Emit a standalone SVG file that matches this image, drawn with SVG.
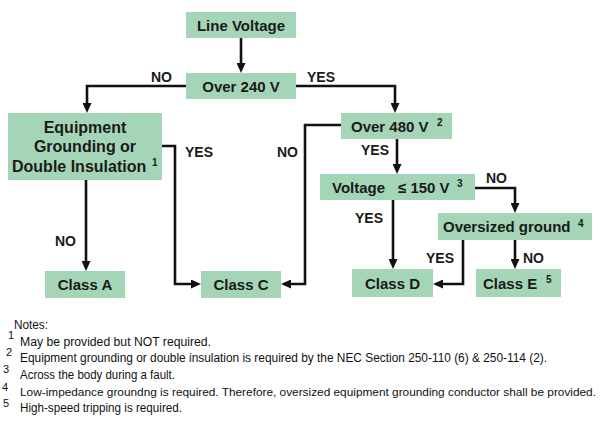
<svg xmlns="http://www.w3.org/2000/svg" width="600" height="431" viewBox="0 0 600 431">
<style>
.box{fill:#a5d5b7;}
.bt{font-family:"Liberation Sans",Arial,sans-serif;font-weight:bold;font-size:15px;fill:#1a1a1a;}
.eq{font-size:16px;}
.sup{font-size:10px;}
.lbl{font-family:"Liberation Sans",Arial,sans-serif;font-weight:bold;font-size:14px;fill:#1a1a1a;}
.conn path{fill:none;stroke:#111;stroke-width:2.6;stroke-linejoin:miter;marker-end:url(#ah);}
.note{font-family:"Liberation Sans Narrow","Liberation Sans",Arial,sans-serif;font-size:12.5px;fill:#111;}
.long{font-size:11.7px;}
.nsup{font-family:"Liberation Sans Narrow","Liberation Sans",Arial,sans-serif;font-size:11px;fill:#111;}
</style>
<defs>
<marker id="ah" viewBox="0 0 10 9" refX="4" refY="4.5" markerWidth="10" markerHeight="9" markerUnits="userSpaceOnUse" orient="auto">
<path d="M0,0 L10,4.5 L0,9 z" fill="#111"/>
</marker>
</defs>
<rect width="600" height="431" fill="#fff"/>

<g id="connectors" class="conn">
<path d="M241,38 V67"/>
<path d="M186,86 H87 V107"/>
<path d="M296,86 H395 V107"/>
<path d="M162,146 H175 V284 H195"/>
<path d="M86,180 V265"/>
<path d="M341,125 H305 V284 H287"/>
<path d="M397,139 V168"/>
<path d="M475,188 H515 V207"/>
<path d="M393,200 V263"/>
<path d="M463,240 V284 H439"/>
<path d="M515,240 V263"/>
</g>

<g id="labels">
<text class="lbl" x="151" y="82">NO</text>
<text class="lbl" x="307" y="82">YES</text>
<text class="lbl" x="185" y="157">YES</text>
<text class="lbl" x="277" y="157">NO</text>
<text class="lbl" x="361" y="155">YES</text>
<text class="lbl" x="486" y="183">NO</text>
<text class="lbl" x="355" y="223">YES</text>
<text class="lbl" x="426" y="263">YES</text>
<text class="lbl" x="523" y="263">NO</text>
<text class="lbl" x="55" y="246">NO</text>
</g>

<g id="line-voltage">
<rect class="box" x="186" y="12" width="110" height="26"/>
<text class="bt" x="241" y="31" text-anchor="middle">Line Voltage</text>
</g>
<g id="over-240">
<rect class="box" x="186" y="73" width="110" height="26"/>
<text class="bt" x="241" y="91.5" text-anchor="middle">Over 240 V</text>
</g>
<g id="equipment">
<rect class="box" x="8" y="113" width="154" height="67"/>
<text class="bt eq" x="85" y="133" text-anchor="middle">Equipment</text>
<text class="bt eq" x="85" y="152" text-anchor="middle">Grounding or</text>
<text class="bt eq" x="12" y="171.5">Double Insulation<tspan class="sup" x="152" y="166">1</tspan></text>
</g>
<g id="over-480">
<rect class="box" x="341" y="113" width="111" height="26"/>
<text class="bt" x="351" y="131.5">Over 480 V<tspan class="sup" x="437" y="126">2</tspan></text>
</g>
<g id="voltage-150">
<rect class="box" x="320" y="174" width="155" height="26"/>
<text class="bt" x="332" y="192.5">Voltage<tspan x="398">≤ 150 V</tspan><tspan class="sup" x="457" y="187">3</tspan></text>
</g>
<g id="oversized-ground">
<rect class="box" x="438" y="213" width="154" height="27"/>
<text class="bt" x="443" y="232">Oversized ground<tspan class="sup" x="578" y="226.5">4</tspan></text>
</g>
<g id="class-a">
<rect class="box" x="45" y="271" width="80" height="27"/>
<text class="bt" x="85" y="290" text-anchor="middle">Class A</text>
</g>
<g id="class-c">
<rect class="box" x="201" y="271" width="80" height="27"/>
<text class="bt" x="241" y="290" text-anchor="middle">Class C</text>
</g>
<g id="class-d">
<rect class="box" x="352" y="269" width="81" height="28"/>
<text class="bt" x="392.5" y="288.5" text-anchor="middle">Class D</text>
</g>
<g id="class-e">
<rect class="box" x="476" y="269" width="85" height="28"/>
<text class="bt" x="483" y="288.5">Class E<tspan class="sup" x="546" y="283">5</tspan></text>
</g>

<g id="notes">
<text class="note" x="14" y="329" textLength="34" lengthAdjust="spacingAndGlyphs">Notes:</text>
<text class="nsup" x="8" y="339">1</text>
<text class="note" x="20" y="346" textLength="191" lengthAdjust="spacingAndGlyphs">May be provided but NOT required.</text>
<text class="nsup" x="6" y="356">2</text>
<text class="note" x="20" y="362" textLength="527" lengthAdjust="spacingAndGlyphs">Equipment grounding or double insulation is required by the NEC Section 250-110 (6) &amp; 250-114 (2).</text>
<text class="nsup" x="3" y="373">3</text>
<text class="note" x="20" y="379" textLength="155" lengthAdjust="spacingAndGlyphs">Across the body during a fault.</text>
<text class="nsup" x="2" y="391">4</text>
<text class="note long" x="20" y="396" textLength="576" lengthAdjust="spacingAndGlyphs">Low-impedance groundng is required. Therefore, oversized equipment grounding conductor shall be provided.</text>
<text class="nsup" x="3" y="407">5</text>
<text class="note" x="20" y="412" textLength="162" lengthAdjust="spacingAndGlyphs">High-speed tripping is required.</text>
</g>
</svg>
